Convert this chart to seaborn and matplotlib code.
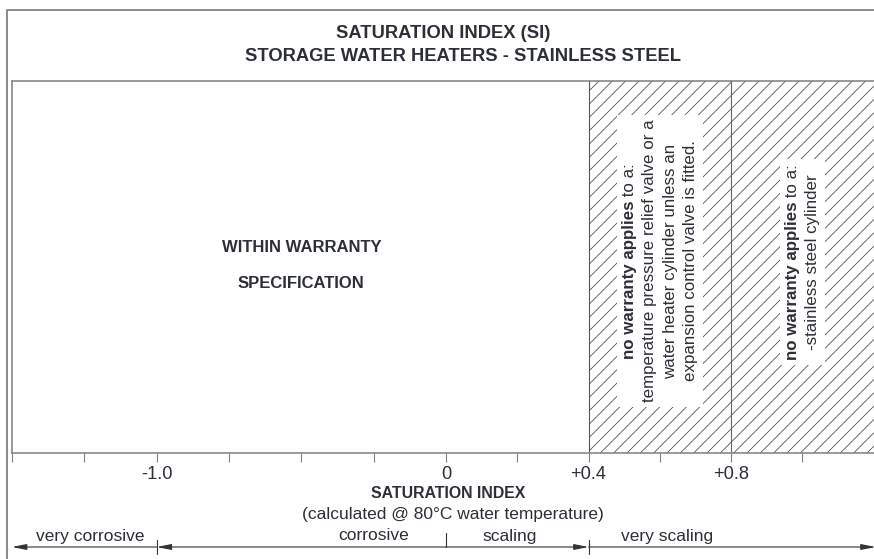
import numpy as np
import matplotlib
matplotlib.use("Agg")
import matplotlib.pyplot as plt
import matplotlib.transforms as mtransforms
from matplotlib.patches import Rectangle
import seaborn as sns

# ---------------- data ----------------
title_lines = ["SATURATION INDEX (SI)", "STORAGE WATER HEATERS - STAINLESS STEEL"]
tick_values = [-1.5, -1.25, -1.0, -0.75, -0.5, -0.25, 0.0, 0.2, 0.4, 0.6, 0.8, 1.0]
tick_labels = ["", "", "-1.0", "", "", "", "0", "", "+0.4", "", "+0.8", ""]
zone_names = ["very corrosive", "corrosive", "scaling", "very scaling"]
zone_bounds = [-1.5, -1.0, 0.0, 0.4]          # left edges of zones; last runs to axis end
zone_label_x = [-1.23, -0.25, 0.18, 0.62]
no_warranty_from = 0.4
divider_at = 0.8
warranty_text = ["WITHIN WARRANTY", "SPECIFICATION"]
note_bold = "no warranty applies"
note_rest = " to a:"
box1_lines = ["temperature pressure relief valve or a",
              "water heater cylinder unless an",
              "expansion control valve is fitted."]
box2_lines = ["-stainless steel cylinder"]
axis_title = "SATURATION INDEX"
axis_sub = "(calculated @ 80°C water temperature)"

# ---------------- style ----------------
sns.set_theme(style="white")
plt.rcParams["font.family"] = ["Liberation Sans", "DejaVu Sans"]
plt.rcParams["hatch.linewidth"] = 0.7

TXT = "#2c2f36"
LINE = "#808080"
W, H, DPI = 874, 559, 80

fig = plt.figure(figsize=(W / DPI, H / DPI), dpi=DPI)

# piecewise scale: negative side is compressed (schematic scale)
NEG = 289.0 / 356.0
def fwd(x):
    x = np.asarray(x, dtype=float)
    return np.where(x < 0, x * NEG, x)
def inv(x):
    x = np.asarray(x, dtype=float)
    return np.where(x < 0, x / NEG, x)

ax_l, ax_t, ax_b = 12, 81, 453
ax = fig.add_axes([ax_l / W, (H - ax_b) / H, (W - ax_l) / W + 0.01, (ax_b - ax_t) / H])
ax.set_zorder(1)
ax.set_xscale("function", functions=(fwd, inv))
k = (446 - ax_l) / (-fwd(-1.5))
xmax = float((W + 0.01 * W - ax_l) / k + fwd(-1.5))
ax.set_xlim(-1.5, xmax)
ax.set_ylim(0, 1)
ax.patch.set_alpha(0)

sns.despine(ax=ax, right=True, top=False, left=False, bottom=False)
for s in ["left", "top", "bottom"]:
    ax.spines[s].set_color(LINE)
    ax.spines[s].set_linewidth(1.4)

ax.set_yticks([])
ax.set_xticks(tick_values)
ax.set_xticklabels(tick_labels)
ax.xaxis.set_minor_locator(matplotlib.ticker.NullLocator())
ax.tick_params(axis="x", direction="out", length=8, width=1.0, color=LINE,
               labelsize=16.4, labelcolor=TXT, pad=3.5, bottom=True)

# hatched no-warranty region
ax.axvspan(no_warranty_from, xmax, facecolor="white", edgecolor="#4a4a4a",
           hatch="//", linewidth=0, zorder=0)
ax.axvline(no_warranty_from, color="#555555", lw=1.0, zorder=1)
ax.axvline(divider_at, color="#666666", lw=1.0, zorder=1)

# overlay axes for text and annotations (pixel coordinates, y downwards)
bg = fig.add_axes([0, 0, 1, 1])
bg.set_zorder(2)
bg.set_xlim(0, W)
bg.set_ylim(H, 0)
bg.axis("off")

bt = mtransforms.blended_transform_factory(ax.transData, bg.transData)

# warranty spec text
bg.text(-0.5, 247, warranty_text[0], transform=bt, ha="center", va="center",
        fontsize=15, fontweight="bold", color=TXT)
bg.text(-0.5, 283, warranty_text[1], transform=bt, ha="center", va="center",
        fontsize=15, fontweight="bold", color=TXT)

# rotated note boxes (each line its own text, first line mixed bold/regular)
renderer = fig.canvas.get_renderer()
NOTE_FS = 15.2
PITCH = 20.5
def note_box(x_si, yc, lines):
    xc = ax.transData.transform((x_si, 0.5))[0]
    n = len(lines) + 1
    cols = [xc + (i - (n - 1) / 2) * PITCH for i in range(n)]
    arts = []
    tb = bg.text(0, 0, note_bold, fontsize=NOTE_FS, fontweight="bold")
    tr = bg.text(0, 0, note_rest, fontsize=NOTE_FS)
    wb = tb.get_window_extent(renderer).width
    wr = tr.get_window_extent(renderer).width
    tb.remove(); tr.remove()
    y_bottom = yc + (wb + wr) / 2
    arts.append(bg.text(cols[0], y_bottom, note_bold, rotation=90, ha="left",
                        va="center", rotation_mode="anchor", fontsize=NOTE_FS,
                        fontweight="bold", color=TXT, zorder=5))
    arts.append(bg.text(cols[0], y_bottom - wb, note_rest, rotation=90, ha="left",
                        va="center", rotation_mode="anchor", fontsize=NOTE_FS,
                        color=TXT, zorder=5))
    for c, s in zip(cols[1:], lines):
        arts.append(bg.text(c, yc, s, rotation=90, ha="center", va="center",
                            rotation_mode="anchor", fontsize=NOTE_FS, color=TXT,
                            zorder=5))
    return arts

all_boxes = [note_box(0.6, 261, box1_lines), note_box(1.0, 262, box2_lines)]
inv_bg = bg.transData.inverted()
for arts in all_boxes:
    exts = [a.get_window_extent(renderer) for a in arts]
    x0 = min(e.x0 for e in exts); x1 = max(e.x1 for e in exts)
    y0 = min(e.y0 for e in exts); y1 = max(e.y1 for e in exts)
    (px0, py0), (px1, py1) = inv_bg.transform([(x0, y0), (x1, y1)])
    pad = 5
    bg.add_patch(Rectangle((px0 - pad, py1 - pad), (px1 - px0) + 2 * pad,
                           (py0 - py1) + 2 * pad, facecolor="white",
                           edgecolor="none", zorder=4))

# titles
bg.text(443, 33.5, title_lines[0], ha="center", va="center", fontsize=16.5,
        fontweight="bold", color=TXT)
bg.text(463, 56.5, title_lines[1], ha="center", va="center", fontsize=16.5,
        fontweight="bold", color=TXT)

# outer frame
bg.plot([7, 7, W + 5], [H + 5, 9.5, 9.5], color=LINE, lw=1.6, solid_capstyle="butt")

# axis titles
bg.text(448, 493, axis_title, ha="center", va="center", fontsize=14.3,
        fontweight="bold", color=TXT)
bg.text(453, 515, axis_sub, ha="center", va="center", fontsize=15.6, color=TXT)

# zone labels and arrows
ya = 547
for name, lx in zip(zone_names, zone_label_x):
    bg.text(lx, 536, name, transform=bt, ha="center", va="center",
            fontsize=15.6, color=TXT)

ends = zone_bounds + [xmax]
arrow_kw = dict(arrowstyle="-|>,head_length=0.9,head_width=0.18", color="#333333",
                lw=1.0, shrinkA=0, shrinkB=0)
bg.annotate("", xy=(ends[0], ya), xytext=(ends[1], ya), xycoords=bt, textcoords=bt,
            arrowprops=arrow_kw)
bg.annotate("", xy=(ends[1], ya), xytext=(ends[2], ya), xycoords=bt, textcoords=bt,
            arrowprops=arrow_kw)
bg.annotate("", xy=(ends[3], ya), xytext=(ends[2], ya), xycoords=bt, textcoords=bt,
            arrowprops=arrow_kw)
bg.annotate("", xy=(ends[4] - 0.02, ya), xytext=(ends[3], ya), xycoords=bt,
            textcoords=bt, arrowprops=arrow_kw)
# boundary marks
bg.plot([ends[1], ends[1]], [540, 554], transform=bt, color="#333333", lw=1.0)
bg.plot([ends[2], ends[2]], [533, ya], transform=bt, color="#333333", lw=1.0)
bg.plot([ends[3], ends[3]], [540, 554], transform=bt, color="#333333", lw=1.0)

fig.savefig("out.png", dpi=DPI)
